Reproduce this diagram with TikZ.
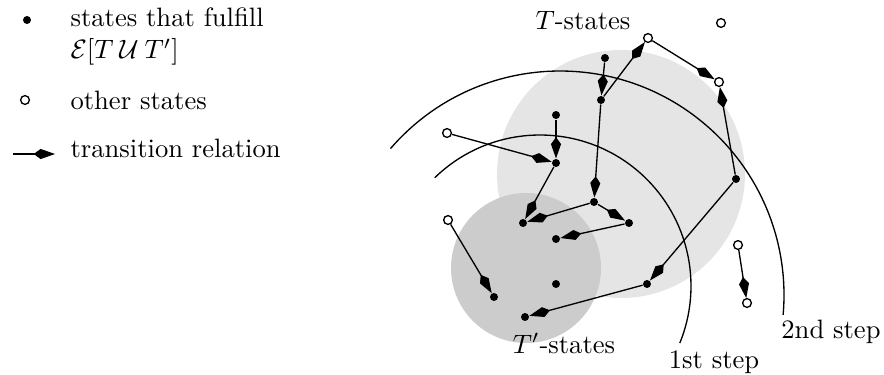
\documentclass[tikz,border=0pt]{standalone}
\usetikzlibrary{arrows.meta}

\begin{document}
\begin{tikzpicture}
[
	fullpt/.style={circle,fill,inner sep=0pt,minimum size=3pt},
	otherpt/.style={circle,draw,fill=white,line width=0.5pt,inner sep=0pt,minimum size=3.3pt},
	trans/.style={line width=0.5pt,-{Kite[length=8pt,width=3.8pt,inset=2.6pt]}},
	x=0.01322cm,
	y=-0.01322cm
]
	\useasboundingbox (0,0) rectangle (884,374);

	% state sets
	\fill[black!10] (621,174) circle[radius=124];
	\fill[black!20] (526,268) circle[radius=75];

	% steps
	\draw[line width=0.5pt] ([shift={(220.8:224)}]560,295) arc[start angle=220.8,end angle=365.1,radius=224];
	\draw[line width=0.5pt] ([shift={(225.8:151)}]540,286) arc[start angle=225.8,end angle=382.2,radius=151];

	% labels
	\node[anchor=base] (tlab) at (583,29) {$T$-states};
	\node[anchor=base] (tplab) at (564,353) {$T'$-states};
	\node[anchor=base] (step1) at (714,368) {1st step};
	\node[anchor=base] (step2) at (831,338) {2nd step};

	% states that fulfill
	\node[fullpt] (f1) at (605,58) {};
	\node[fullpt] (f2) at (601,100) {};
	\node[fullpt] (f3) at (556,115) {};
	\node[fullpt] (f4) at (556,163) {};
	\node[fullpt] (f5) at (736,179) {};
	\node[fullpt] (f6) at (594,202) {};
	\node[fullpt] (f7) at (523,223) {};
	\node[fullpt] (f8) at (629,223) {};
	\node[fullpt] (f9) at (556,239) {};
	\node[fullpt] (f10) at (647,284) {};
	\node[fullpt] (f11) at (494,297) {};
	\node[fullpt] (f12) at (556,284) {};
	\node[fullpt] (f13) at (525,317) {};

	% other states
	\node[otherpt] (o1) at (721,23) {};
	\node[otherpt] (o2) at (648,38) {};
	\node[otherpt] (o3) at (719,82) {};
	\node[otherpt] (o4) at (447,133) {};
	\node[otherpt] (o5) at (448,220) {};
	\node[otherpt] (o6) at (738,245) {};
	\node[otherpt] (o7) at (747,303) {};

	% transitions
	\draw[trans] (f1) -- (f2);
	\draw[trans] (f2) -- (o2);
	\draw[trans] (o2) -- (o3);
	\draw[trans] (f5) -- (o3);
	\draw[trans] (f5) -- (f10);
	\draw[trans] (f10) -- (f13);
	\draw[trans] (f2) -- (f6);
	\draw[trans] (f3) -- (f4);
	\draw[trans] (o4) -- (f4);
	\draw[trans] (f4) -- (f7);
	\draw[trans] (f6) -- (f7);
	\draw[trans] (f6) -- (f8);
	\draw[trans] (f8) -- (f9);
	\draw[trans] (o5) -- (f11);
	\draw[trans] (o6) -- (o7);

	% legend
	\node[fullpt] (legfull) at (27,20) {};
	\node[anchor=north west,align=left,inner sep=0pt] (legfulltxt) at (70,7.5)
	  {states that fulfill\\$\mathcal{E}[T\mathbin{\mathcal{U}}T']$};
	\node[otherpt] (legother) at (25,100) {};
	\node[anchor=base west,inner sep=0pt] (legothertxt) at (70,109) {other states};
	\coordinate (legfrom) at (13,154);
	\coordinate (legto) at (55,154);
	\draw[trans] (legfrom) -- (legto);
	\node[anchor=base west,inner sep=0pt] (legtranstxt) at (70,157) {transition relation};

\end{tikzpicture}
\end{document}
